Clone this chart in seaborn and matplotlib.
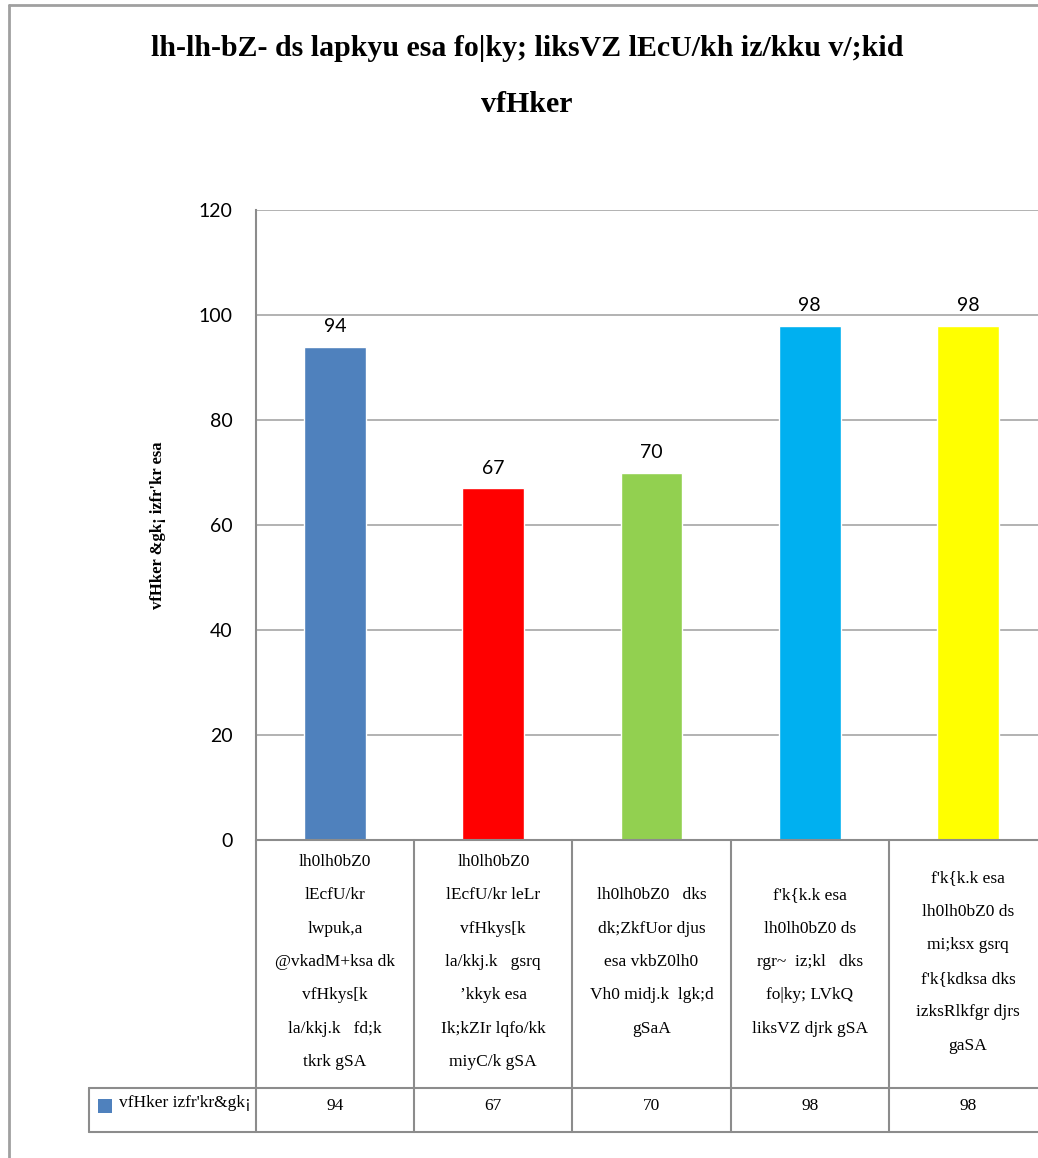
import matplotlib
matplotlib.use("Agg")
import matplotlib.pyplot as plt
import seaborn as sns
import pandas as pd
from matplotlib.lines import Line2D

title_lines = ["lh-lh-bZ- ds lapkyu esa fo|ky; liksVZ lEcU/kh iz/kku v/;kid", "vfHker"]
y_label = "vfHker &gk¡ izfr'kr esa"
series_name = "vfHker izfr'kr&gk¡"
categories = [
    "lh0lh0bZ0\nlEcfU/kr\nlwpuk,a\n@vkadM+ksa dk\nvfHkys[k\nla/kkj.k   fd;k\ntkrk gSA",
    "lh0lh0bZ0\nlEcfU/kr leLr\nvfHkys[k\nla/kkj.k   gsrq\n’kkyk esa\nIk;kZIr lqfo/kk\nmiyC/k gSA",
    "lh0lh0bZ0   dks\ndk;ZkfUor djus\nesa vkbZ0lh0\nVh0 midj.k  lgk;d\ngSaA",
    "f'k{k.k esa\nlh0lh0bZ0 ds\nrgr~  iz;kl   dks\nfo|ky; LVkQ\nliksVZ djrk gSA",
    "f'k{k.k esa\nlh0lh0bZ0 ds\nmi;ksx gsrq\nf'k{kdksa dks\nizksRlkfgr djrs\ngaSA",
]
values = [94, 67, 70, 98, 98]
colors = ["#4F81BD", "#FF0000", "#92D050", "#00B0F0", "#FFFF00"]
y_ticks = [0, 20, 40, 60, 80, 100, 120]

sns.set_theme(style="white")
plt.rcParams["font.family"] = ["Liberation Serif", "DejaVu Sans"]
plt.rcParams["text.color"] = "black"
plt.rcParams["ytick.color"] = "black"

W, H = 1038, 1158
fig = plt.figure(figsize=(W / 100, H / 100), dpi=100)
ax = fig.add_axes([256 / W, (H - 840) / H, (1047 - 256) / W, 630 / H])

df = pd.DataFrame({"cat": [str(i) for i in range(len(values))], "val": values})
sns.barplot(data=df, x="cat", y="val", hue="cat", palette=colors, legend=False,
            width=0.39, ax=ax, saturation=1)
ax.set_xlim(-0.5, len(values) - 0.5)
ax.set_ylim(0, 120)
ax.set_yticks(y_ticks)
ax.set_yticklabels([str(t) for t in y_ticks], fontfamily="Lato", fontsize=14, color="black")
ax.tick_params(axis="y", length=0, pad=17)
ax.set_xticks([])
ax.set_xlabel("")
ax.set_ylabel("")
ax.grid(axis="y", color="#A6A6A6", linewidth=1.2)
ax.set_axisbelow(True)
for s in ["top", "right", "bottom"]:
    ax.spines[s].set_visible(False)
ax.spines["left"].set_color("#8C8C8C")
ax.spines["left"].set_linewidth(1.5)

for i, v in enumerate(values):
    ax.annotate(str(v), (i, v), xytext=(0, 8), textcoords="offset points",
                ha="center", va="bottom", fontfamily="Lato", fontsize=14, color="black")

# data table below
tr = ax.get_xaxis_transform()
px = 158.0
def y_ax(py):
    return (840 - py) / 630.0
def x_d(pxv):
    return -0.5 + (pxv - 256) / px

lc = "#8C8C8C"
lw = 1.5
n = len(values)
ax.add_line(Line2D([-0.5, n - 0.5], [0, 0], transform=tr, color=lc, lw=lw, clip_on=False))
for yy in [1088, 1132]:
    ax.add_line(Line2D([x_d(89), n - 0.5], [y_ax(yy), y_ax(yy)], transform=tr, color=lc, lw=lw, clip_on=False))
for k in range(n):
    xb = k - 0.5
    ax.add_line(Line2D([xb, xb], [0, y_ax(1132)], transform=tr, color=lc, lw=lw, clip_on=False))
ax.add_line(Line2D([x_d(89), x_d(89)], [y_ax(1088), y_ax(1132)], transform=tr, color=lc, lw=lw, clip_on=False))

for i, c in enumerate(categories):
    ax.text(i, y_ax(962), c, transform=tr, ha="center", va="center", fontsize=12.5,
            linespacing=2.45, clip_on=False, color="black")
    ax.text(i, y_ax(1106), str(values[i]), transform=tr, ha="center", va="center",
            fontsize=12.5, clip_on=False, color="black")

fig.patches.append(plt.Rectangle((98 / W, (H - 1113) / H), 14 / W, 14 / H,
                                 transform=fig.transFigure, facecolor=colors[0], edgecolor="none"))
fig.text(119 / W, (H - 1103) / H, series_name, ha="left", va="center", fontsize=12.5, color="black")

fig.text(527 / W, (H - 48) / H, title_lines[0], ha="center", va="center", fontsize=21.5,
         fontweight="bold", color="black")
fig.text(527 / W, (H - 105) / H, title_lines[1], ha="center", va="center", fontsize=21.5,
         fontweight="bold", color="black")
fig.text(158 / W, (H - 525) / H, y_label, rotation=90, ha="center", va="center", fontsize=12,
         fontweight="bold", color="black")

# outer chart border
fig.add_artist(Line2D([9 / W, 9 / W], [0, (H - 5) / H], transform=fig.transFigure, color="#A0A0A0", lw=2))
fig.add_artist(Line2D([9 / W, 1], [(H - 5) / H, (H - 5) / H], transform=fig.transFigure, color="#A0A0A0", lw=2))

fig.savefig("out.png", dpi=100)
